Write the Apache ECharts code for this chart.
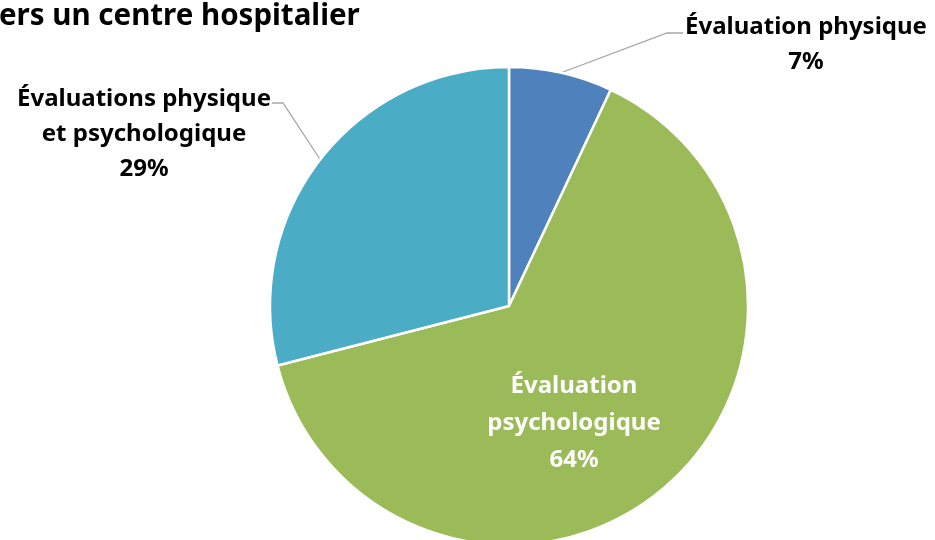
<!DOCTYPE html>
<html>
<head>
<meta charset="utf-8">
<script src="https://cdn.jsdelivr.net/npm/echarts@6/dist/echarts.min.js"></script>
<style>
  html, body { margin: 0; padding: 0; background: #fff; }
  #chart { width: 935px; height: 540px; }
</style>
</head>
<body>
<div id="chart"></div>
<script>
var titleText = 'ers un centre hospitalier';
var categories = ['Évaluation physique', 'Évaluation psychologique', 'Évaluations physique et psychologique'];
var labelLines = ['Évaluation physique', 'Évaluation\npsychologique', 'Évaluations physique\net psychologique'];
var values = [7, 64, 29];
var colors = ['#4F81BD', '#9BBB59', '#4BACC6'];

// label centre and leader-line bend/end points (px)
var labelPos = [
    {x: 806, y: 45, bend: [667, 33], end: [683, 33]},
    {x: 574, y: 423},
    {x: 144, y: 134, bend: [283, 103], end: [272, 103]}
];

var chart = echarts.init(document.getElementById('chart'));
var font = '"Noto Sans", sans-serif';

chart.setOption({
    animation: false,
    title: {
        text: titleText,
        left: -1,
        top: 2,
        padding: 0,
        textStyle: {fontFamily: font, fontSize: 29.5, fontWeight: 'bold', color: '#000'}
    },
    series: [{
        type: 'pie',
        center: [509, 306],
        radius: [0, 239],
        startAngle: 90,
        clockwise: true,
        itemStyle: {borderColor: '#fff', borderWidth: 2.5},
        label: {
            show: true,
            position: 'outside',
            fontFamily: font,
            fontSize: 24,
            fontWeight: 'bold',
            color: '#000',
            lineHeight: 35,
            align: 'center',
            formatter: function (p) {
                return labelLines[p.dataIndex] + '\n' + p.value + '%';
            }
        },
        labelLine: {show: true, lineStyle: {color: '#A6A6A6', width: 1.3}},
        labelLayout: function (p) {
            var pos = labelPos[p.dataIndex];
            var out = {x: pos.x, y: pos.y, align: 'center', verticalAlign: 'middle'};
            if (pos.bend && p.labelLinePoints) {
                out.labelLinePoints = [p.labelLinePoints[0], pos.bend, pos.end];
            }
            return out;
        },
        data: categories.map(function (name, i) {
            var d = {name: name, value: values[i], itemStyle: {color: colors[i]}};
            if (i === 1) {
                d.label = {position: 'inside', color: '#fff', lineHeight: 37};
                d.labelLine = {show: false};
            }
            return d;
        })
    }]
});
</script>
</body>
</html>
